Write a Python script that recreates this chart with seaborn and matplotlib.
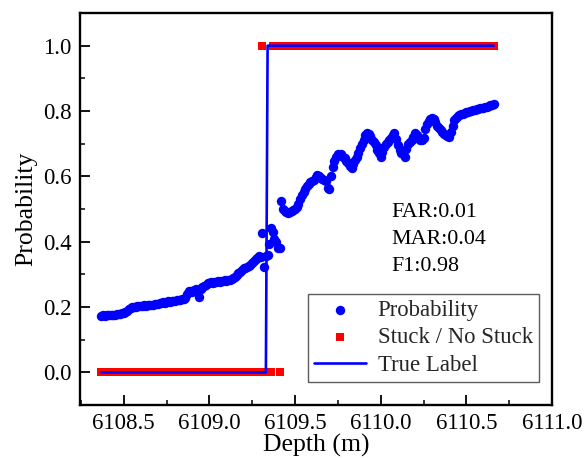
import numpy as np
import pandas as pd
import matplotlib
matplotlib.use("Agg")
import matplotlib.pyplot as plt
import seaborn as sns
from matplotlib.ticker import MultipleLocator, FormatStrFormatter

# ---- data ----
start_depth = 6108.37
step = 0.01

prob = [
    # 6108.37 - 6108.49
    0.172, 0.174, 0.173, 0.175, 0.174, 0.176, 0.175, 0.177, 0.176, 0.178, 0.179, 0.180, 0.181,
    # 6108.50 - 6108.54
    0.182, 0.184, 0.188, 0.193, 0.197,
    # 6108.55 - 6108.69
    0.199, 0.201, 0.200, 0.203, 0.202, 0.204, 0.203, 0.205, 0.204, 0.206, 0.205, 0.207, 0.206, 0.208, 0.209,
    # 6108.70 - 6108.86
    0.210, 0.212, 0.211, 0.214, 0.213, 0.215, 0.217, 0.216, 0.218, 0.219, 0.218, 0.221, 0.222, 0.221, 0.224, 0.226, 0.229,
    # 6108.87 - 6108.99
    0.240, 0.248, 0.250, 0.246, 0.252, 0.255, 0.250, 0.230, 0.256, 0.260, 0.264, 0.268, 0.272,
    # 6109.00 - 6109.14
    0.275, 0.277, 0.274, 0.278, 0.276, 0.279, 0.277, 0.280, 0.279, 0.282, 0.281, 0.284, 0.283, 0.286, 0.288,
    # 6109.15 - 6109.19
    0.292, 0.298, 0.303, 0.308, 0.314,
    # 6109.20 - 6109.25
    0.318, 0.320, 0.322, 0.324, 0.328, 0.336,
    # 6109.26 - 6109.41
    0.342, 0.347, 0.350, 0.355, 0.352, 0.425, 0.322, 0.355, 0.358, 0.392, 0.443, 0.430, 0.408, 0.398, 0.382, 0.380,
    # 6109.42 - 6109.63
    0.523, 0.500, 0.495, 0.490, 0.488, 0.492, 0.495, 0.498, 0.500, 0.505, 0.515, 0.530, 0.544, 0.552, 0.560, 0.570,
    0.578, 0.582, 0.585, 0.590, 0.598, 0.605,
    # 6109.64 - 6109.99
    0.600, 0.595, 0.592, 0.588, 0.585, 0.565, 0.560, 0.600, 0.630, 0.648, 0.660, 0.667, 0.665, 0.668, 0.660, 0.655,
    0.648, 0.640, 0.632, 0.625, 0.638, 0.650, 0.660, 0.672, 0.688, 0.700, 0.712, 0.725, 0.734, 0.730, 0.722, 0.712,
    0.705, 0.695, 0.682, 0.670,
    # 6110.00 - 6110.40
    0.660, 0.675, 0.690, 0.700, 0.705, 0.712, 0.718, 0.725, 0.732, 0.715, 0.695, 0.680, 0.672, 0.668, 0.660, 0.685,
    0.700, 0.705, 0.712, 0.720, 0.732, 0.725, 0.718, 0.712, 0.710, 0.718, 0.745, 0.760, 0.768, 0.775, 0.780, 0.775,
    0.765, 0.755, 0.748, 0.742, 0.735, 0.730, 0.725, 0.722, 0.720,
    # 6110.41 - 6110.66
    0.735, 0.755, 0.772, 0.780, 0.785, 0.788, 0.790, 0.792, 0.794, 0.796, 0.798, 0.800, 0.801, 0.803, 0.804, 0.806,
    0.807, 0.808, 0.809, 0.810, 0.812, 0.813, 0.815, 0.817, 0.818, 0.820,
]

# predicted label (Stuck / No Stuck) as runs of (value, count)
pred_runs = [(0, 94), (1, 1), (0, 5), (1, 4), (0, 1), (1, 125)]
# true label as runs of (value, count)
true_runs = [(0, 97), (1, 133)]

metrics_text = ["FAR:0.01", "MAR:0.04", "F1:0.98"]
x_ticks = [6108.5, 6109.0, 6109.5, 6110.0, 6110.5, 6111.0]
y_ticks = [0.0, 0.2, 0.4, 0.6, 0.8, 1.0]

depth = np.round(start_depth + step * np.arange(len(prob)), 2)
pred = np.concatenate([[v] * n for v, n in pred_runs])
true = np.concatenate([[v] * n for v, n in true_runs])
df = pd.DataFrame({"depth": depth, "prob": prob, "pred": pred, "true": true})

# ---- style ----
sns.set_theme(style="ticks")
plt.rcParams["font.family"] = ["Liberation Serif", "DejaVu Serif"]

fig = plt.figure(figsize=(5.85, 4.59), dpi=100)
ax = fig.add_axes([80 / 585, 1 - 405 / 459, 472 / 585, 392 / 459])

sns.scatterplot(data=df, x="depth", y="prob", ax=ax, color="#0000ff", s=46,
                linewidth=0, marker="o", label="Probability", zorder=2)
sns.scatterplot(data=df, x="depth", y="pred", ax=ax, color="#ff0000", s=30,
                linewidth=0, marker="s", label="Stuck / No Stuck", zorder=3)
sns.lineplot(data=df, x="depth", y="true", ax=ax, color="#0000ff", lw=1.9,
             label="True Label", zorder=4)

ax.set_xlim(6108.245, 6111.0)
ax.set_ylim(-0.1, 1.1)
ax.set_xticks(x_ticks)
ax.set_yticks(y_ticks)
ax.xaxis.set_major_formatter(FormatStrFormatter("%.1f"))
ax.yaxis.set_major_formatter(FormatStrFormatter("%.1f"))
ax.xaxis.set_minor_locator(MultipleLocator(0.25))
ax.yaxis.set_minor_locator(MultipleLocator(0.1))
ax.tick_params(which="major", direction="in", length=7, width=1.3, labelsize=16.5,
               colors="black", pad=6)
ax.tick_params(which="minor", direction="in", length=3.5, width=1.1, colors="black")
ax.tick_params(top=False, right=False, which="both")

for sp in ax.spines.values():
    sp.set_visible(True)
    sp.set_linewidth(1.7)
    sp.set_color("black")

ax.set_xlabel("Depth (m)", fontsize=18.5, labelpad=0, color="black")
ax.set_ylabel("Probability", fontsize=18.5, labelpad=4, color="black")

for i, t in enumerate(metrics_text):
    ax.text(6110.06, 0.49 - i * 0.083, t, fontsize=15.8, va="center", ha="left", color="black")

leg = ax.legend(loc="lower right", bbox_to_anchor=(0.972, 0.059), borderaxespad=0,
                fontsize=16.4, frameon=True, fancybox=False, edgecolor="#333333",
                handlelength=2.3, handletextpad=0.5, labelspacing=0.28, borderpad=0.27)
leg.get_frame().set_linewidth(1.0)

fig.savefig("out.png", dpi=100, facecolor="white")
